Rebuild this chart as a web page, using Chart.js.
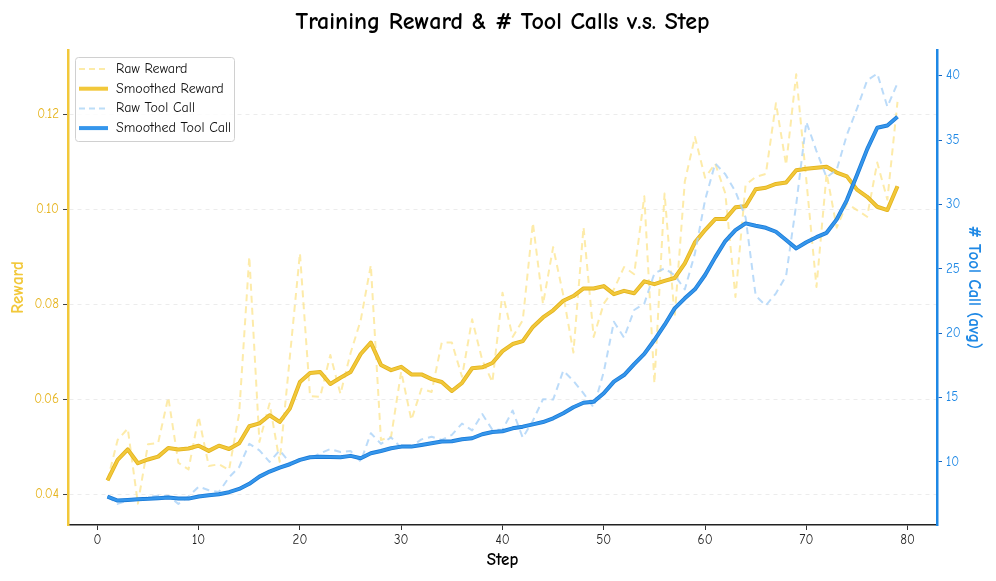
<!DOCTYPE html>
<html>
<head>
<meta charset="utf-8">
<title>Training Reward & # Tool Calls v.s. Step</title>
<script src="https://cdn.jsdelivr.net/npm/chart.js@4.4.1/dist/chart.umd.min.js"></script>
<style>
  html, body { margin:0; padding:0; background:#fff; }
  #wrap { width:996px; height:581px; position:relative; }
</style>
</head>
<body>
<div id="wrap"><canvas id="chart" width="996" height="581"></canvas></div>
<script>
// valores
const steps = [];
for (let i = 1; i <= 79; i++) steps.push(i);

const rawReward = [
  0.0429,0.0514,0.0538,0.0380,0.0505,0.0508,0.0604,0.0466,0.0452,0.0563,
  0.0459,0.0463,0.0451,0.0570,0.0900,0.0510,0.0591,0.0468,0.0688,0.0907,
  0.0606,0.0605,0.0693,0.0611,0.0697,0.0766,0.0882,0.0514,0.0521,0.0658,
  0.0556,0.0622,0.0615,0.0719,0.0719,0.0647,0.0768,0.0682,0.0636,0.0824,
  0.0731,0.0766,0.0971,0.0800,0.0920,0.0819,0.0698,0.0962,0.0731,0.0801,
  0.0831,0.0878,0.0863,0.1027,0.0633,0.1033,0.0773,0.1058,0.1152,0.1066,
  0.1096,0.1033,0.0815,0.1051,0.1068,0.1074,0.1223,0.1093,0.1284,0.1061,
  0.0836,0.1075,0.0961,0.1012,0.0998,0.0984,0.1098,0.1020,0.1226
];
const smoothReward = [
  0.0429,0.0472,0.0494,0.0465,0.0473,0.0479,0.0497,0.0494,0.0496,0.0502,
  0.0491,0.0502,0.0495,0.0507,0.0543,0.0549,0.0566,0.0552,0.0580,0.0636,
  0.0655,0.0657,0.0632,0.0645,0.0657,0.0695,0.0719,0.0672,0.0661,0.0668,
  0.0652,0.0652,0.0642,0.0636,0.0617,0.0634,0.0665,0.0667,0.0676,0.0701,
  0.0716,0.0722,0.0752,0.0772,0.0787,0.0807,0.0817,0.0833,0.0833,0.0838,
  0.0821,0.0828,0.0823,0.0848,0.0842,0.0849,0.0855,0.0886,0.0930,0.0956,
  0.0979,0.0979,0.1004,0.1006,0.1042,0.1045,0.1053,0.1056,0.1082,0.1085,
  0.1087,0.1089,0.1077,0.1069,0.1041,0.1026,0.1005,0.0998,0.1048
];
const rawTool = [
  7.31,6.74,7.00,7.05,7.26,7.38,7.36,6.74,7.31,8.08,
  7.80,7.67,8.80,9.60,11.40,10.90,10.00,10.90,9.95,10.16,
  10.28,10.67,11.00,10.77,10.85,10.02,12.23,11.40,11.90,11.10,
  11.20,11.75,11.95,11.71,12.10,12.98,12.45,13.72,12.50,12.50,
  14.00,11.88,13.20,14.87,14.84,17.09,16.30,15.33,14.23,17.00,
  20.89,19.65,21.80,22.30,24.65,25.04,24.50,23.40,26.20,30.34,
  33.19,32.35,31.00,29.00,22.90,22.15,23.10,24.45,30.00,36.42,
  34.15,32.10,32.70,35.40,37.45,39.63,40.17,37.59,39.42
];
const smoothTool = [
  7.31,7.00,7.05,7.10,7.13,7.18,7.23,7.15,7.15,7.31,
  7.41,7.49,7.65,7.90,8.30,8.86,9.25,9.56,9.82,10.16,
  10.36,10.41,10.39,10.36,10.47,10.29,10.67,10.85,11.06,11.19,
  11.19,11.32,11.45,11.58,11.60,11.76,11.84,12.15,12.33,12.38,
  12.61,12.74,12.92,13.10,13.39,13.78,14.25,14.60,14.68,15.33,
  16.24,16.75,17.60,18.39,19.47,20.64,21.93,22.71,23.41,24.52,
  25.89,27.16,28.01,28.53,28.35,28.19,27.88,27.24,26.59,27.07,
  27.46,27.80,28.84,30.34,32.28,34.28,35.96,36.14,36.81
];

const xTicks = [0,10,20,30,40,50,60,70,80];
const rewardTicks = [0.04,0.06,0.08,0.10,0.12];
const toolTicks = [10,15,20,25,30,35,40];

const FONT = "'Comic Sans MS','Comic Neue','DejaVu Sans',sans-serif";
const GOLD = '#F2C83A';
const GOLD_EDGE = '#E2B21C';
const GOLD_TXT = '#E6B41E';
const BLUE = '#3596EC';
const BLUE_EDGE = '#1A7AD6';
const BLUE_TXT = '#1E88E5';

function pairs(ys){ return steps.map((s,i)=>({x:s, y:ys[i]})); }

const legendItems = [
  { label:'Raw Reward', color:'#FCEBA8', dash:[6,4], width:2 },
  { label:'Smoothed Reward', color:GOLD, dash:[], width:4 },
  { label:'Raw Tool Call', color:'#BCDDF8', dash:[6,4], width:2 },
  { label:'Smoothed Tool Call', color:BLUE, dash:[], width:4 }
];

// contorno mais escuro nas linhas suavizadas
const edges = { 1:GOLD_EDGE, 3:BLUE_EDGE };
const outline = {
  id:'outline',
  beforeDatasetDraw(chart, args){
    const edge = edges[args.index];
    if (!edge) return;
    const line = args.meta.dataset;
    const o = line.options;
    const c = o.borderColor, w = o.borderWidth;
    o.borderColor = edge; o.borderWidth = w + 1.6;
    line.draw(chart.ctx, chart.chartArea);
    o.borderColor = c; o.borderWidth = w;
  }
};

const decor = {
  id:'decor',
  afterDraw(chart){
    const ctx = chart.ctx, ca = chart.chartArea;
    ctx.save();
    ctx.fillStyle = '#000';
    ctx.font = "bold 24px " + FONT;
    ctx.textAlign = 'center';
    ctx.textBaseline = 'middle';
    ctx.fillText('Training Reward & # Tool Calls v.s. Step', (ca.left+ca.right)/2, 22);

    const bx = ca.left + 7, by = ca.top + 7, bw = 159, bh = 84;
    ctx.fillStyle = 'rgba(255,255,255,0.85)';
    ctx.strokeStyle = '#d0d0d0';
    ctx.lineWidth = 1;
    ctx.beginPath();
    ctx.roundRect(bx+0.5, by+0.5, bw, bh, 3);
    ctx.fill(); ctx.stroke();
    ctx.font = "14px " + FONT;
    ctx.textAlign = 'left';
    legendItems.forEach((it,i)=>{
      const y = by + 12 + i*19.7;
      ctx.strokeStyle = it.color;
      ctx.lineWidth = it.width;
      ctx.setLineDash(it.dash);
      ctx.beginPath();
      ctx.moveTo(bx+4, y); ctx.lineTo(bx+33, y);
      ctx.stroke();
      ctx.setLineDash([]);
      ctx.fillStyle = '#111';
      ctx.fillText(it.label, bx+41, y);
    });
    ctx.restore();
  }
};

const ctx = document.getElementById('chart').getContext('2d');
new Chart(ctx, {
  type:'line',
  data:{
    datasets:[
      { label:'Raw Reward', data:pairs(rawReward), yAxisID:'y', borderColor:'rgba(252,228,140,0.75)',
        borderWidth:2, borderDash:[7,5], pointRadius:0, order:4 },
      { label:'Smoothed Reward', data:pairs(smoothReward), yAxisID:'y', borderColor:GOLD,
        borderWidth:2.4, pointRadius:0, order:3 },
      { label:'Raw Tool Call', data:pairs(rawTool), yAxisID:'y1', borderColor:'rgba(170,210,248,0.8)',
        borderWidth:2, borderDash:[7,5], pointRadius:0, order:2 },
      { label:'Smoothed Tool Call', data:pairs(smoothTool), yAxisID:'y1', borderColor:BLUE,
        borderWidth:2.4, pointRadius:0, order:1 }
    ]
  },
  options:{
    responsive:false,
    animation:false,
    devicePixelRatio:1,
    layout:{ padding:{ top:50, left:0, right:0, bottom:0 } },
    plugins:{ legend:{ display:false }, title:{ display:false }, tooltip:{ enabled:false } },
    elements:{ line:{ tension:0, borderCapStyle:'butt', borderJoinStyle:'round' } },
    scales:{
      x:{
        type:'linear', min:-2.9, max:82.9,
        afterBuildTicks(s){ s.ticks = xTicks.map(v=>({value:v})); },
        afterFit(s){ s.height = 56; },
        grid:{ drawOnChartArea:false, tickLength:5, color:'#333' },
        border:{ color:'#222', width:1.5 },
        ticks:{ color:'#222', font:{ family:FONT, size:13 }, padding:3 },
        title:{ display:true, text:'Step', color:'#000', font:{ family:FONT, size:17, weight:'bold' }, padding:{ top:0, bottom:11 } }
      },
      y:{
        position:'left', min:0.0335, max:0.1335,
        afterBuildTicks(s){ s.ticks = rewardTicks.map(v=>({value:v})); },
        afterFit(s){ s.width = 68; },
        grid:{ color:'#ececec', tickColor:'#444', tickLength:5, tickBorderDash:[], lineWidth:1 },
        border:{ color:GOLD, width:2.5, dash:[4,4] },
        ticks:{ color:GOLD_TXT, font:{ family:FONT, size:13 }, padding:4,
          callback:v=>v.toFixed(2) },
        title:{ display:true, text:'Reward', color:GOLD, font:{ family:FONT, size:17, weight:'bold' }, padding:{ top:8, bottom:0 } }
      },
      y1:{
        position:'right', min:5.1, max:42.0,
        afterBuildTicks(s){ s.ticks = toolTicks.map(v=>({value:v})); },
        afterFit(s){ s.width = 59; },
        grid:{ drawOnChartArea:false, tickColor:'#1565C0', tickLength:5 },
        border:{ color:BLUE_TXT, width:2.5 },
        ticks:{ color:BLUE_TXT, font:{ family:FONT, size:13 }, padding:4 },
        title:{ display:true, text:'# Tool Call (avg)', color:BLUE_TXT, font:{ family:FONT, size:17, weight:'bold' }, padding:{ top:12, bottom:0 } }
      }
    }
  },
  plugins:[outline, decor]
});
</script>
</body>
</html>
